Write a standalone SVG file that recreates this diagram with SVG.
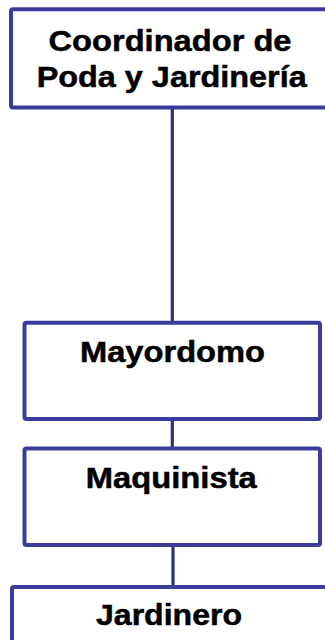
<svg xmlns="http://www.w3.org/2000/svg" width="325" height="640" viewBox="0 0 325 640">
  <style>
    .box { fill: #ffffff; stroke: #3b3b9b; stroke-width: 4; }
    .lbl { font-family: "Liberation Sans", Arial, sans-serif; font-weight: bold; font-size: 29.5px; fill: #000000; stroke: #000000; stroke-width: 0.5; text-anchor: middle; }
    .conn { stroke: #2f2f78; stroke-width: 3.2; fill: none; }
  </style>
  <rect width="325" height="640" fill="#ffffff"/>
  <g id="connectors">
    <line class="conn" x1="172.3" y1="109" x2="172.3" y2="321"/>
    <line class="conn" x1="172.3" y1="421" x2="172.3" y2="447"/>
    <line class="conn" x1="173" y1="547" x2="173" y2="585"/>
  </g>
  <g id="coordinador">
    <rect class="box" x="11" y="9.3" width="330" height="98.2" rx="2"/>
    <text class="lbl" x="170" y="50.8" textLength="243" lengthAdjust="spacingAndGlyphs">Coordinador de</text>
    <text class="lbl" x="171.7" y="86.8" textLength="270" lengthAdjust="spacingAndGlyphs">Poda y Jardinería</text>
  </g>
  <g id="mayordomo">
    <rect class="box" x="24.5" y="322.7" width="295.5" height="96.3" rx="2"/>
    <text class="lbl" x="172.5" y="362.2" textLength="185" lengthAdjust="spacingAndGlyphs">Mayordomo</text>
  </g>
  <g id="maquinista">
    <rect class="box" x="24.5" y="448.5" width="295.5" height="96.5" rx="2"/>
    <text class="lbl" x="171.3" y="487.5" textLength="171" lengthAdjust="spacingAndGlyphs">Maquinista</text>
  </g>
  <g id="jardinero">
    <rect class="box" x="12" y="587" width="330" height="80" rx="2"/>
    <text class="lbl" x="169" y="625" textLength="146" lengthAdjust="spacingAndGlyphs">Jardinero</text>
  </g>
</svg>
